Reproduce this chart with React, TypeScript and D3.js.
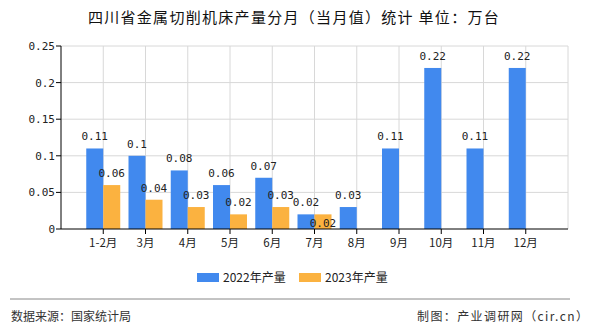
import React from "react";
import * as d3 from "d3";

const categories = ["1-2月", "3月", "4月", "5月", "6月", "7月", "8月", "9月", "10月", "11月", "12月"];
const series2022 = [0.11, 0.1, 0.08, 0.06, 0.07, 0.02, 0.03, 0.11, 0.22, 0.11, 0.22];
const series2023: (number | null)[] = [0.06, 0.04, 0.03, 0.02, 0.03, 0.02, null, null, null, null, null];
const yTicks = [0, 0.05, 0.1, 0.15, 0.2, 0.25];
const seriesNames = ["2022年产量", "2023年产量"];
const colors = ["#4189ee", "#fbb240"];

export default function App() {
  const W = 590, H = 330;
  const left = 61, right = 568, top = 46, bottom = 229;
  const x = d3.scalePoint<string>().domain(categories).range([left, right]).padding(1);
  const y = d3.scaleLinear().domain([0, 0.25]).range([bottom, top]);
  const bw = 17;
  const mono = "'DejaVu Sans Mono', monospace";
  const sans = "'Noto Sans CJK SC', sans-serif";
  const fmt = (v: number) => String(+v.toFixed(2));

  return (
    <svg width={W} height={H} style={{ position: "absolute", left: 0, top: 0, background: "#fff" }}>
      <text x={294} y={23} textAnchor="middle" fontFamily={sans} fontSize={15} letterSpacing={1.3} fill="#111">
        四川省金属切削机床产量分月（当月值）统计 单位：万台
      </text>
      {yTicks.map((t) => (
        <g key={t}>
          {t > 0 && <line x1={left} x2={right} y1={y(t)} y2={y(t)} stroke="#d8d8d8" />}
          <line x1={left - 5} x2={left} y1={y(t)} y2={y(t)} stroke="#000" />
          <text x={left - 6} y={y(t) + 4} textAnchor="end" fontFamily={mono} fontSize={11} fill="#222">
            {fmt(t)}
          </text>
        </g>
      ))}
      <line x1={right} x2={right} y1={top} y2={bottom} stroke="#d8d8d8" />
      {categories.map((c) => {
        const cx = x(c)!;
        return (
          <g key={c}>
            <line x1={cx} x2={cx} y1={top} y2={bottom} stroke="#d8d8d8" />
            <line x1={cx} x2={cx} y1={bottom} y2={bottom + 5} stroke="#000" />
            <text x={cx} y={bottom + 18} textAnchor="middle" fontFamily={sans} fontSize={11.5} fill="#222">
              {c}
            </text>
          </g>
        );
      })}
      {categories.map((c, i) => {
        const cx = x(c)!;
        const v1 = series2022[i];
        const v2 = series2023[i];
        const y1 = y(v1);
        const label1Y = y1 - 8;
        let label2Y = v2 != null ? y(v2) - 8 : 0;
        if (v2 != null && Math.abs(label2Y - label1Y) < 12) label2Y = label1Y + 21;
        return (
          <g key={c}>
            <rect x={cx - bw} y={y1} width={bw} height={bottom - y1} fill={colors[0]} />
            {v2 != null && <rect x={cx} y={y(v2)} width={bw} height={bottom - y(v2)} fill={colors[1]} />}
            <text x={cx - bw / 2} y={label1Y} textAnchor="middle" fontFamily={mono} fontSize={11} fill="#222">
              {fmt(v1)}
            </text>
            {v2 != null && (
              <text x={cx + bw / 2} y={label2Y} textAnchor="middle" fontFamily={mono} fontSize={11} fill="#222">
                {fmt(v2)}
              </text>
            )}
          </g>
        );
      })}
      <line x1={left} x2={left} y1={top} y2={bottom} stroke="#000" />
      <line x1={left} x2={right} y1={bottom} y2={bottom} stroke="#000" />
      {seriesNames.map((n, i) => (
        <g key={n}>
          <rect x={197 + i * 102} y={273} width={22} height={9} fill={colors[i]} />
          <text x={223 + i * 102} y={282} fontFamily={sans} fontSize={12} fill="#222">
            {n}
          </text>
        </g>
      ))}
      <line x1={10} x2={570} y1={299} y2={299} stroke="#888" />
      <text x={11} y={321} fontFamily={sans} fontSize={12} fill="#333">数据来源：国家统计局</text>
      <text x={417} y={321} fontFamily={sans} fontSize={12} letterSpacing={1.4} fill="#333">制图：产业调研网（cir.cn）</text>
    </svg>
  );
}
